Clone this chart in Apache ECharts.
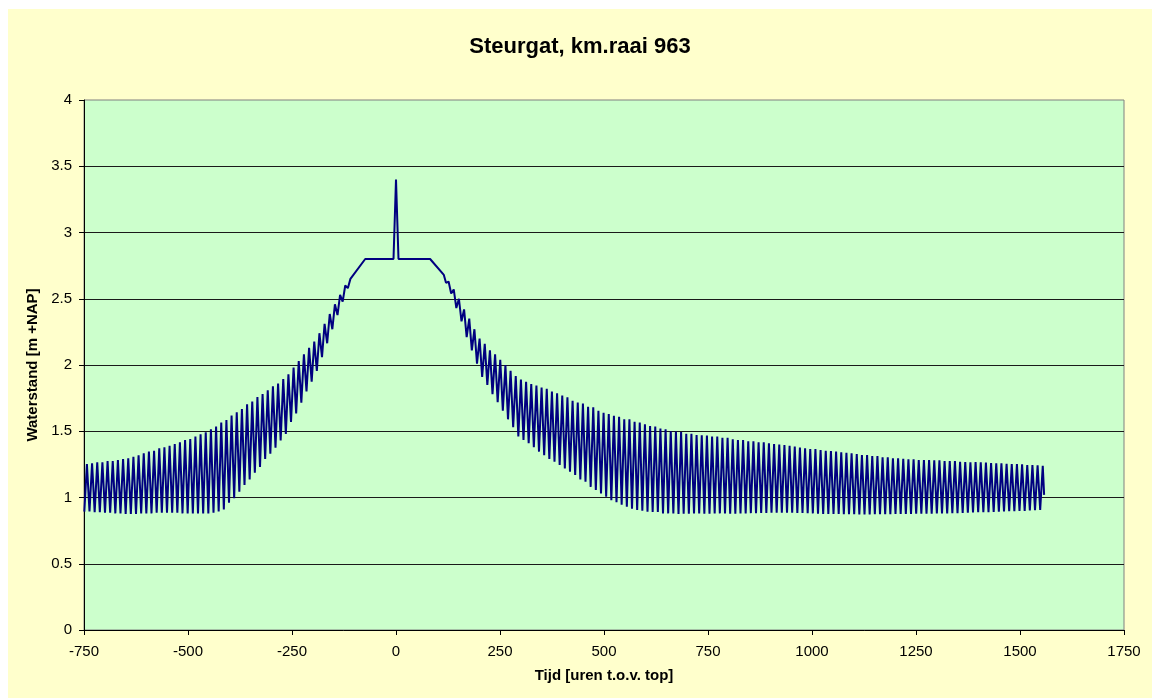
<!DOCTYPE html>
<html>
<head>
<meta charset="utf-8">
<script src="https://cdn.jsdelivr.net/npm/echarts@6/dist/echarts.min.js"></script>
<style>
  html, body { margin: 0; padding: 0; background: #ffffff; }
  #chart { position: absolute; left: 8px; top: 9px; width: 1144px; height: 689px; background: #FFFFCC; }
</style>
</head>
<body>
<div id="chart"></div>
<script>
// Tide grid: low water of tide k falls at firstLowWater + k * tidePeriod,
// high water follows halfway-ish through the cycle.
var tidePeriod = 12.42;      // hours
var firstLowWater = -749.2;  // hours relative to the storm peak
var highWaterLag = 6.2;      // hours from low water to high water

// Rising limb, tides 0..51
var riseLW = [0.893, 0.895, 0.89, 0.89, 0.885, 0.885, 0.88, 0.88, 0.875, 0.875,
  0.875, 0.88, 0.88, 0.88, 0.885, 0.885, 0.885, 0.885, 0.885, 0.88,
  0.88, 0.88, 0.88, 0.88, 0.88, 0.885, 0.895, 0.91, 0.961, 0.994,
  1.044, 1.094, 1.137, 1.187, 1.23, 1.29, 1.33, 1.376, 1.43, 1.48,
  1.57, 1.635, 1.716, 1.80, 1.874, 1.955, 2.06, 2.164, 2.27, 2.377,
  2.478, 2.58];
var riseHW = [1.253, 1.258, 1.265, 1.265, 1.275, 1.275, 1.283, 1.29, 1.296, 1.308,
  1.318, 1.333, 1.346, 1.353, 1.371, 1.379, 1.391, 1.404, 1.417, 1.434,
  1.442, 1.46, 1.477, 1.492, 1.515, 1.535, 1.566, 1.585, 1.618, 1.643,
  1.668, 1.704, 1.725, 1.758, 1.78, 1.81, 1.84, 1.86, 1.894, 1.93,
  1.98, 2.03, 2.08, 2.13, 2.176, 2.24, 2.31, 2.385, 2.458, 2.53,
  2.60, 2.65];

// Storm crest: plateau at 2.80 m with the peak of 3.40 m at t = 0
var crestTime  = [-74, -6, 0, 6, 82, 115];
var crestLevel = [2.80, 2.80, 3.40, 2.80, 2.80, 2.68];

// Falling limb, tides 70..185
var fallStartTide = 70;
var fallLW = [2.62, 2.54, 2.43, 2.33, 2.21, 2.11, 2.01, 1.91, 1.85, 1.78,
  1.72, 1.655, 1.59, 1.53, 1.46, 1.434, 1.41, 1.38, 1.346, 1.32,
  1.29, 1.27, 1.245, 1.22, 1.195, 1.17, 1.137, 1.12, 1.08, 1.057,
  1.03, 1.006, 0.98, 0.964, 0.946, 0.93, 0.916, 0.906, 0.90, 0.893,
  0.89, 0.89, 0.88, 0.88, 0.88, 0.875,
  0.878, 0.878, 0.88, 0.88, 0.878, 0.878, 0.88, 0.88, 0.88, 0.878,
  0.878, 0.88, 0.88, 0.882, 0.882, 0.884, 0.884,
  0.886, 0.886, 0.885, 0.886, 0.886, 0.884, 0.884, 0.882, 0.88, 0.878,
  0.876, 0.876, 0.875,
  0.875, 0.874, 0.873, 0.873, 0.872, 0.872, 0.872, 0.873, 0.873, 0.874,
  0.874, 0.875, 0.875, 0.876, 0.876, 0.877, 0.877, 0.878, 0.878, 0.879,
  0.88, 0.88, 0.881, 0.882, 0.884, 0.886, 0.888, 0.889, 0.89, 0.89,
  0.891, 0.892, 0.895, 0.896, 0.897, 0.898, 0.899, 0.902, 0.904, 0.906];
var fallHW = [2.63, 2.57, 2.50, 2.42, 2.35, 2.27, 2.20, 2.16, 2.11, 2.08,
  2.04, 2.00, 1.957, 1.917, 1.89, 1.874, 1.857, 1.845, 1.83, 1.82,
  1.80, 1.786, 1.77, 1.756, 1.73, 1.716, 1.71, 1.685, 1.68, 1.655,
  1.64, 1.63, 1.617, 1.61, 1.59, 1.59, 1.572, 1.565, 1.552, 1.54,
  1.535, 1.52, 1.515, 1.50, 1.497, 1.495, 1.48, 1.48, 1.472, 1.47,
  1.468, 1.46, 1.46, 1.45, 1.45, 1.44, 1.434, 1.434, 1.424, 1.424,
  1.417, 1.417, 1.41,
  1.404, 1.40, 1.396, 1.39, 1.384, 1.378, 1.371, 1.366, 1.366, 1.358,
  1.353, 1.35, 1.346, 1.341, 1.338, 1.333, 1.328, 1.32, 1.32, 1.313,
  1.313, 1.303, 1.303, 1.296, 1.296, 1.293, 1.288, 1.288, 1.283, 1.283,
  1.283, 1.28, 1.28,
  1.275, 1.275, 1.275, 1.27, 1.268, 1.265, 1.268, 1.265, 1.263, 1.26,
  1.258, 1.258, 1.255, 1.253, 1.253, 1.25, 1.245, 1.245, 1.243, 1.24];

// Last sample of the record
var endTime = 1558;
var endLevel = 1.02;

// Axis ticks
var xTicks = [-750, -500, -250, 0, 250, 500, 750, 1000, 1250, 1500, 1750];
var yTicks = [0, 0.5, 1, 1.5, 2, 2.5, 3, 3.5, 4];

function lwTime(k) { return +(firstLowWater + k * tidePeriod).toFixed(2); }
function hwTime(k) { return +(firstLowWater + highWaterLag + k * tidePeriod).toFixed(2); }

var series = [];
for (var i = 0; i < riseHW.length; i++) {
  series.push([lwTime(i), riseLW[i]]);
  series.push([hwTime(i), riseHW[i]]);
}
for (var j = 0; j < crestTime.length; j++) {
  series.push([crestTime[j], crestLevel[j]]);
}
for (var m = 0; m < fallHW.length; m++) {
  var k = fallStartTide + m;
  series.push([lwTime(k), fallLW[m]]);
  series.push([hwTime(k), fallHW[m]]);
}
series.push([endTime, endLevel]);

var font = "'Liberation Sans', Arial, Helvetica, sans-serif";
var chart = echarts.init(document.getElementById('chart'), null, { renderer: 'canvas' });
chart.setOption({
  animation: false,
  backgroundColor: '#FFFFCC',
  title: {
    text: 'Steurgat, km.raai 963',
    left: 'center',
    top: 22,
    textStyle: { fontFamily: font, fontSize: 22, fontWeight: 'bold', color: '#000' }
  },
  grid: {
    left: 76, top: 91, right: 28, bottom: 68,
    show: true, backgroundColor: '#CCFFCC', borderColor: '#808080', borderWidth: 1
  },
  xAxis: {
    type: 'value',
    min: xTicks[0], max: xTicks[xTicks.length - 1], interval: 250,
    name: 'Tijd [uren t.o.v. top]',
    nameLocation: 'middle', nameGap: 38,
    nameTextStyle: { fontFamily: font, fontSize: 15, fontWeight: 'bold', color: '#000' },
    axisLine: { show: true, onZero: false, lineStyle: { color: '#000', width: 1 } },
    axisTick: { show: true, inside: false, length: 5, lineStyle: { color: '#000' } },
    axisLabel: {
      fontFamily: font, fontSize: 15, color: '#000', margin: 14,
      formatter: function (v) { return String(v); }
    },
    splitLine: { show: false }
  },
  yAxis: {
    type: 'value',
    min: yTicks[0], max: yTicks[yTicks.length - 1], interval: 0.5,
    name: 'Waterstand [m +NAP]',
    nameLocation: 'middle', nameGap: 42, nameRotate: 90,
    nameTextStyle: { fontFamily: font, fontSize: 15, fontWeight: 'bold', color: '#000' },
    axisLine: { show: true, onZero: false, lineStyle: { color: '#000', width: 1 } },
    axisTick: { show: true, inside: false, length: 5, lineStyle: { color: '#000' } },
    axisLabel: {
      fontFamily: font, fontSize: 15, color: '#000', margin: 12,
      formatter: function (v) { return String(v); }
    },
    splitLine: { show: true, showMinLine: false, showMaxLine: false, lineStyle: { color: '#1a1a1a', width: 1 } }
  },
  series: [{
    type: 'line',
    data: series,
    showSymbol: false,
    smooth: false,
    lineStyle: { color: '#000080', width: 2 },
    clip: true
  }]
});
</script>
</body>
</html>
